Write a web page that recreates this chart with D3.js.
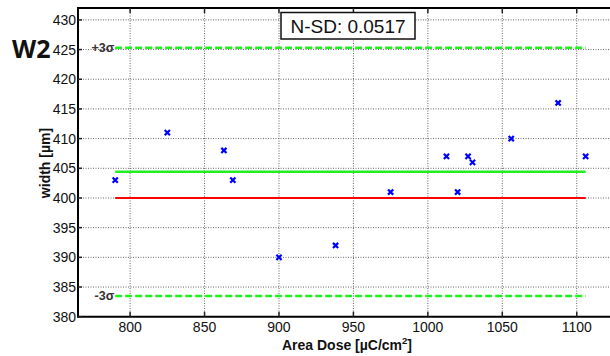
<!DOCTYPE html>
<html><head><meta charset="utf-8">
<script src="https://cdn.jsdelivr.net/npm/d3@7"></script>
<style>body{margin:0;background:#fff;} svg{display:block;}</style>
</head><body>
<svg id="c" width="610" height="356"></svg>
<script>
const doses = [790, 825, 863, 869, 900, 938, 975, 1020, 1012.5, 1027, 1030, 1056, 1087.5, 1106];
const widths = [403, 411, 408, 403, 390, 392, 401, 401, 407, 407, 406, 410, 416, 407];
const xTicks = [800, 850, 900, 950, 1000, 1050, 1100];
const yTicks = [380, 385, 390, 395, 400, 405, 410, 415, 420, 425, 430];
const target = 400;
const meanVal = 404.4;
const upper3s = 425.3;
const lower3s = 383.5;
const lineStart = 790, lineEnd = 1106;
const nsdText = "N-SD: 0.0517";

const svg = d3.select("#c");
const L = 78, T = 8, R = 640, B = 316.7;
const x = d3.scaleLinear().domain([765, 1142.5]).range([L, R]);
const y = d3.scaleLinear().domain([380, 432]).range([B, T]);
const font = "Liberation Sans, Arial, sans-serif";

const g = svg.append("g");
// grid
g.selectAll(".gx").data(xTicks).join("line")
  .attr("x1", d=>x(d)).attr("x2", d=>x(d)).attr("y1", T).attr("y2", B)
  .attr("stroke", "#666").attr("stroke-width", 1).attr("stroke-dasharray", "1,1.5");
g.selectAll(".gy").data(yTicks.filter(d=>d>380)).join("line")
  .attr("x1", L).attr("x2", 610).attr("y1", d=>y(d)).attr("y2", d=>y(d))
  .attr("stroke", "#666").attr("stroke-width", 1).attr("stroke-dasharray", "1,1.5");

// reference lines
g.append("line").attr("x1", x(lineStart)).attr("x2", x(lineEnd)).attr("y1", y(upper3s)).attr("y2", y(upper3s))
  .attr("stroke", "#22ee22").attr("stroke-width", 2.5).attr("stroke-dasharray", "7,3");
g.append("line").attr("x1", x(lineStart)).attr("x2", x(lineEnd)).attr("y1", y(lower3s)).attr("y2", y(lower3s))
  .attr("stroke", "#22ee22").attr("stroke-width", 2.5).attr("stroke-dasharray", "7,3");
g.append("line").attr("x1", x(lineStart)).attr("x2", x(lineEnd)).attr("y1", y(meanVal)).attr("y2", y(meanVal))
  .attr("stroke", "#22ee22").attr("stroke-width", 2.5);
g.append("line").attr("x1", x(lineStart)).attr("x2", x(lineEnd)).attr("y1", y(target)).attr("y2", y(target))
  .attr("stroke", "#ff0000").attr("stroke-width", 2);

// markers
const s = 2.6;
g.selectAll(".pt").data(doses.map((d,i)=>[d, widths[i]])).join("path")
  .attr("d", d=>{const cx=x(d[0]), cy=y(d[1]); return `M${cx-s},${cy-s}L${cx+s},${cy+s}M${cx-s},${cy+s}L${cx+s},${cy-s}`;})
  .attr("stroke", "#0000ff").attr("stroke-width", 2.2).attr("fill", "none");

// sigma labels
g.append("text").attr("x", x(lineStart)-1).attr("y", y(upper3s)+4).attr("text-anchor","end")
  .attr("font-family", font).attr("font-size", 12.5).attr("font-weight","bold").attr("fill","#333").text("+3σ");
g.append("text").attr("x", x(lineStart)-1).attr("y", y(lower3s)+4).attr("text-anchor","end")
  .attr("font-family", font).attr("font-size", 12.5).attr("font-weight","bold").attr("fill","#333").text("-3σ");

// axes
const ax = svg.append("g");
ax.append("line").attr("x1", L).attr("x2", 610).attr("y1", B).attr("y2", B).attr("stroke","#000").attr("stroke-width",2);
ax.append("line").attr("x1", L).attr("x2", 610).attr("y1", T).attr("y2", T).attr("stroke","#000").attr("stroke-width",2);
ax.append("line").attr("x1", L).attr("x2", L).attr("y1", T-1).attr("y2", B+1).attr("stroke","#000").attr("stroke-width",2);
// ticks inward
ax.selectAll(".tb").data(xTicks).join("line").attr("x1", d=>x(d)).attr("x2", d=>x(d)).attr("y1", B).attr("y2", B-5).attr("stroke","#222").attr("stroke-width",1.5);
ax.selectAll(".tt").data(xTicks).join("line").attr("x1", d=>x(d)).attr("x2", d=>x(d)).attr("y1", T).attr("y2", T+5).attr("stroke","#222").attr("stroke-width",1.5);
ax.selectAll(".tl").data(yTicks).join("line").attr("x1", L).attr("x2", L+4).attr("y1", d=>y(d)).attr("y2", d=>y(d)).attr("stroke","#222").attr("stroke-width",1.5);

ax.selectAll(".xl").data(xTicks).join("text").attr("x", d=>x(d)).attr("y", B+15.5)
  .attr("text-anchor","middle").attr("font-family", font).attr("font-size", 14).attr("fill","#111").text(d=>d);
ax.selectAll(".yl").data(yTicks).join("text").attr("x", L-2).attr("y", d=>y(d)+5)
  .attr("text-anchor","end").attr("font-family", font).attr("font-size", 14).attr("fill","#111").text(d=>d);

// axis titles
const xt = svg.append("text").attr("x", 347).attr("y", 350).attr("text-anchor","middle")
  .attr("font-family", font).attr("font-size", 14).attr("font-weight","bold").attr("fill","#111");
xt.append("tspan").text("Area Dose [µC/cm");
xt.append("tspan").attr("font-size", 9.5).attr("dy", -6).text("2");
xt.append("tspan").attr("dy", 6).text("]");

svg.append("text").attr("transform","translate(50,163) rotate(-90)").attr("text-anchor","middle")
  .attr("font-family", font).attr("font-size", 14).attr("font-weight","bold").attr("fill","#111").text("width [µm]");

svg.append("text").attr("x", 12).attr("y", 58).attr("font-family", "Open Sans, sans-serif")
  .attr("font-size", 25).attr("font-weight","bold").attr("fill","#111").text("W2");

// N-SD box
svg.append("rect").attr("x", 281).attr("y", 12.5).attr("width", 134).attr("height", 26.5)
  .attr("fill","#fff").attr("stroke","#111").attr("stroke-width",1.5);
svg.append("text").attr("x", 348).attr("y", 33).attr("text-anchor","middle")
  .attr("font-family", font).attr("font-size", 19).attr("fill","#111").text(nsdText);
</script>
</body></html>
